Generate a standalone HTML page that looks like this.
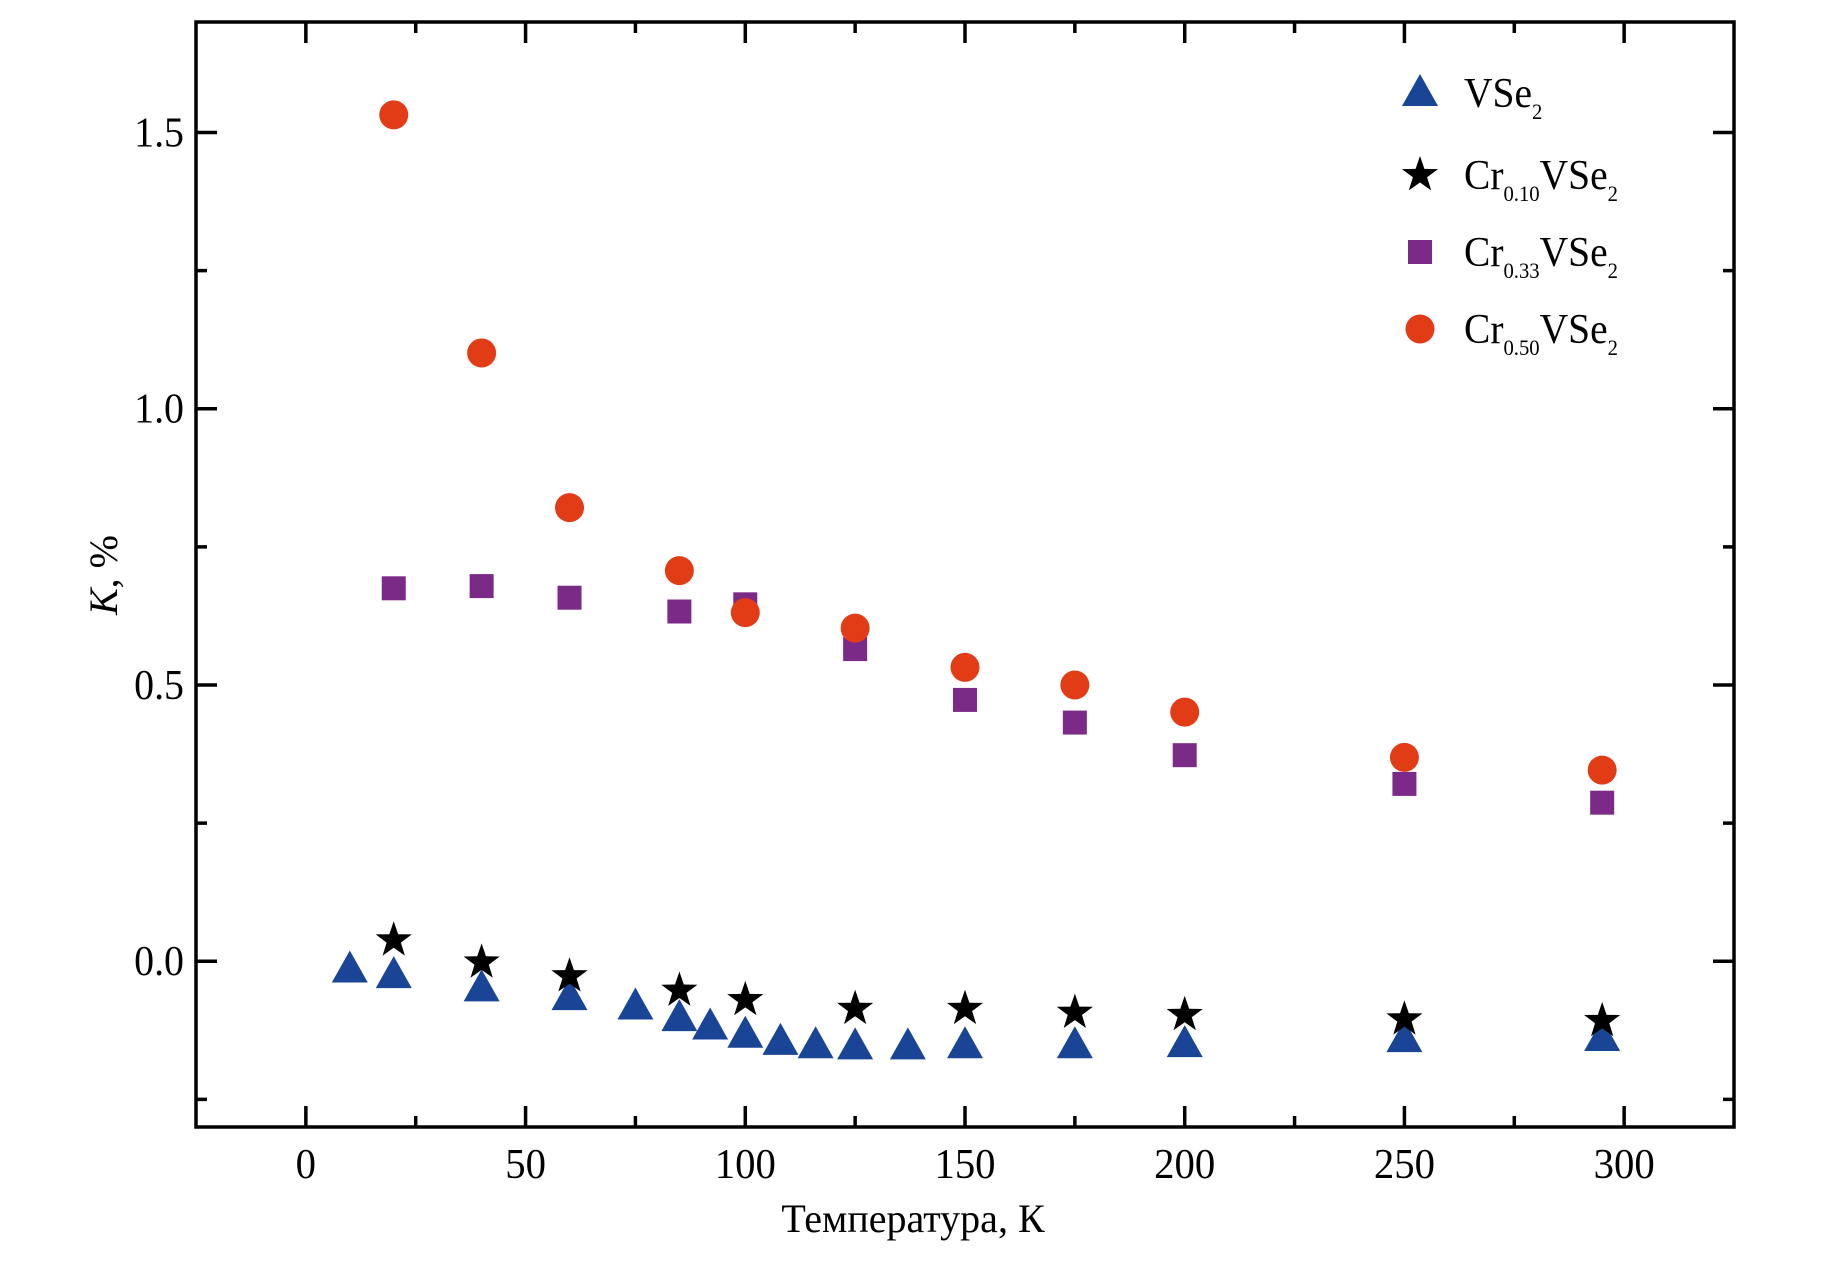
<!DOCTYPE html>
<html><head><meta charset="utf-8">
<style>
html,body{margin:0;padding:0;background:#fff;}
svg{display:block;}
text{font-family:"Liberation Serif",serif;fill:#000;}
</style></head>
<body>
<svg id="chart" width="1830" height="1263" viewBox="0 0 1830 1263" xmlns="http://www.w3.org/2000/svg">
<g id="axes"></g>
<g id="marks"></g>
<g id="legend"></g>
</svg>
<script>
const tVSe2 = [10,20,40,60,75,85,92,100,108,116,125,137,150,175,200,250,295];
const kVSe2 = [-0.015,-0.025,-0.049,-0.065,-0.082,-0.103,-0.118,-0.133,-0.146,-0.152,-0.154,-0.154,-0.152,-0.152,-0.150,-0.141,-0.139];
const tCr = [20,40,60,85,100,125,150,175,200,250,295];
const kCr010 = [0.038,-0.002,-0.027,-0.053,-0.070,-0.086,-0.086,-0.093,-0.097,-0.105,-0.108];
const kCr033 = [0.675,0.679,0.658,0.633,0.646,0.565,0.473,0.432,0.373,0.321,0.287];
const kCr050 = [1.532,1.101,0.821,0.707,0.631,0.603,0.532,0.500,0.451,0.369,0.346];
const xMajor = [0,50,100,150,200,250,300];
const xMinor = [25,75,125,175,225,275];
const yMajor = [0,0.5,1.0,1.5];
const yMinor = [-0.25,0.25,0.75,1.25];
const yLabels = ["0.0","0.5","1.0","1.5"];

const L=196,R=1734,T=22,B=1127;
const X0=-25,X1=325,Y0=-0.3,Y1=1.7;
const sx=v=>L+(v-X0)/(X1-X0)*(R-L);
const sy=v=>B-(v-Y0)/(Y1-Y0)*(B-T);
const NS="http://www.w3.org/2000/svg";
function mk(tag,attrs,parent){const e=document.createElementNS(NS,tag);for(const k in attrs)e.setAttribute(k,attrs[k]);parent.appendChild(e);return e;}
const axes=document.getElementById('axes'), marks=document.getElementById('marks'), legend=document.getElementById('legend');

const frame=mk('rect',{x:L,y:T,width:R-L,height:B-T,fill:'none',stroke:'#000','stroke-width':3.5},axes);



function tickX(v,len,label){
  const x=sx(v);
  const a=mk('line',{x1:x,y1:B,x2:x,y2:B-len,stroke:'#000','stroke-width':3.5},axes);
  
  
  const b=mk('line',{x1:x,y1:T,x2:x,y2:T+len,stroke:'#000','stroke-width':3.5},axes);
  
  
  if(label!==undefined){
    const t=mk('text',{x:x,y:1178,'text-anchor':'middle','font-size':42,transform:`translate(${x},0) scale(0.97,1) translate(${-x},0)`},axes);
    t.textContent=label;
    
    
  }
}
function tickY(v,len,label){
  const y=sy(v);
  const a=mk('line',{x1:L,y1:y,x2:L+len,y2:y,stroke:'#000','stroke-width':3.5},axes);
  
  
  const b=mk('line',{x1:R,y1:y,x2:R-len,y2:y,stroke:'#000','stroke-width':3.5},axes);
  
  
  if(label!==undefined){
    const t=mk('text',{x:184,y:y+14,'text-anchor':'end','font-size':42,transform:`translate(184,0) scale(0.95,1) translate(-184,0)`},axes);
    t.textContent=label;
    
    
  }
}
xMajor.forEach(v=>tickX(v,21,String(v)));
xMinor.forEach(v=>tickX(v,11));
yMajor.forEach((v,i)=>tickY(v,21,yLabels[i]));
yMinor.forEach(v=>tickY(v,11));

const xt=mk('text',{x:913,y:1232,'text-anchor':'middle','font-size':40,transform:'translate(913,0) scale(1.0,1) translate(-913,0)'},axes);
xt.textContent='Температура, К';


const yt=mk('text',{x:0,y:0,'text-anchor':'middle','font-size':40,transform:'translate(117,575) rotate(-90)'},axes);
yt.innerHTML='<tspan font-style="italic">K</tspan>, %';



function tri(x,y,p,c){const s=17;const e=mk('polygon',{points:`${x},${y-s-2} ${x-s-1},${y+s-4} ${x+s+1},${y+s-4}`,fill:c},p);return e;}
function star(x,y,p){let pts=[];for(let i=0;i<10;i++){const r=i%2?7.5:19;const a=-Math.PI/2+i*Math.PI/5;pts.push((x+r*Math.cos(a)).toFixed(1)+','+(y+r*Math.sin(a)).toFixed(1));}return mk('polygon',{points:pts.join(' '),fill:'#000'},p);}
function sq(x,y,p){return mk('rect',{x:x-12,y:y-12,width:24,height:24,fill:'#7b2a87'},p);}
function circ(x,y,p){return mk('circle',{cx:x,cy:y,r:14.5,fill:'#e23c16'},p);}

tVSe2.forEach((t,i)=>{const e=tri(sx(t),sy(kVSe2[i]),marks,'#1a4597');

});
tCr.forEach((t,i)=>{const e=sq(sx(t),sy(kCr033[i]),marks);

});
tCr.forEach((t,i)=>{const e=circ(sx(t),sy(kCr050[i]),marks);

});
tCr.forEach((t,i)=>{const e=star(sx(t),sy(kCr010[i]),marks);

});

const rows=[93,175,252,329];
let m;
m=tri(1420,rows[0],legend,'#1a4597');


m=star(1420,rows[1],legend);


m=sq(1420,rows[2],legend);


m=circ(1420,rows[3],legend);


const labs=[['VSe','',''],['Cr','0.10','VSe'],['Cr','0.33','VSe'],['Cr','0.50','VSe']];
const names=['legend-label-vse2','legend-label-cr010','legend-label-cr033','legend-label-cr050'];
labs.forEach((l,i)=>{
  const y=rows[i]+14;
  const t=mk('text',{x:1464,y:y,'font-size':42,transform:`translate(1464,0) scale(0.94,1) translate(-1464,0)`},legend);
  let h=l[0];
  if(l[1]) h+=`<tspan font-size="22" dy="12">${l[1]}</tspan><tspan dy="-12">${l[2]}</tspan>`;
  h+=`<tspan font-size="22" dy="12">2</tspan>`;
  t.innerHTML=h;
  
  
});
</script>
</body></html>
